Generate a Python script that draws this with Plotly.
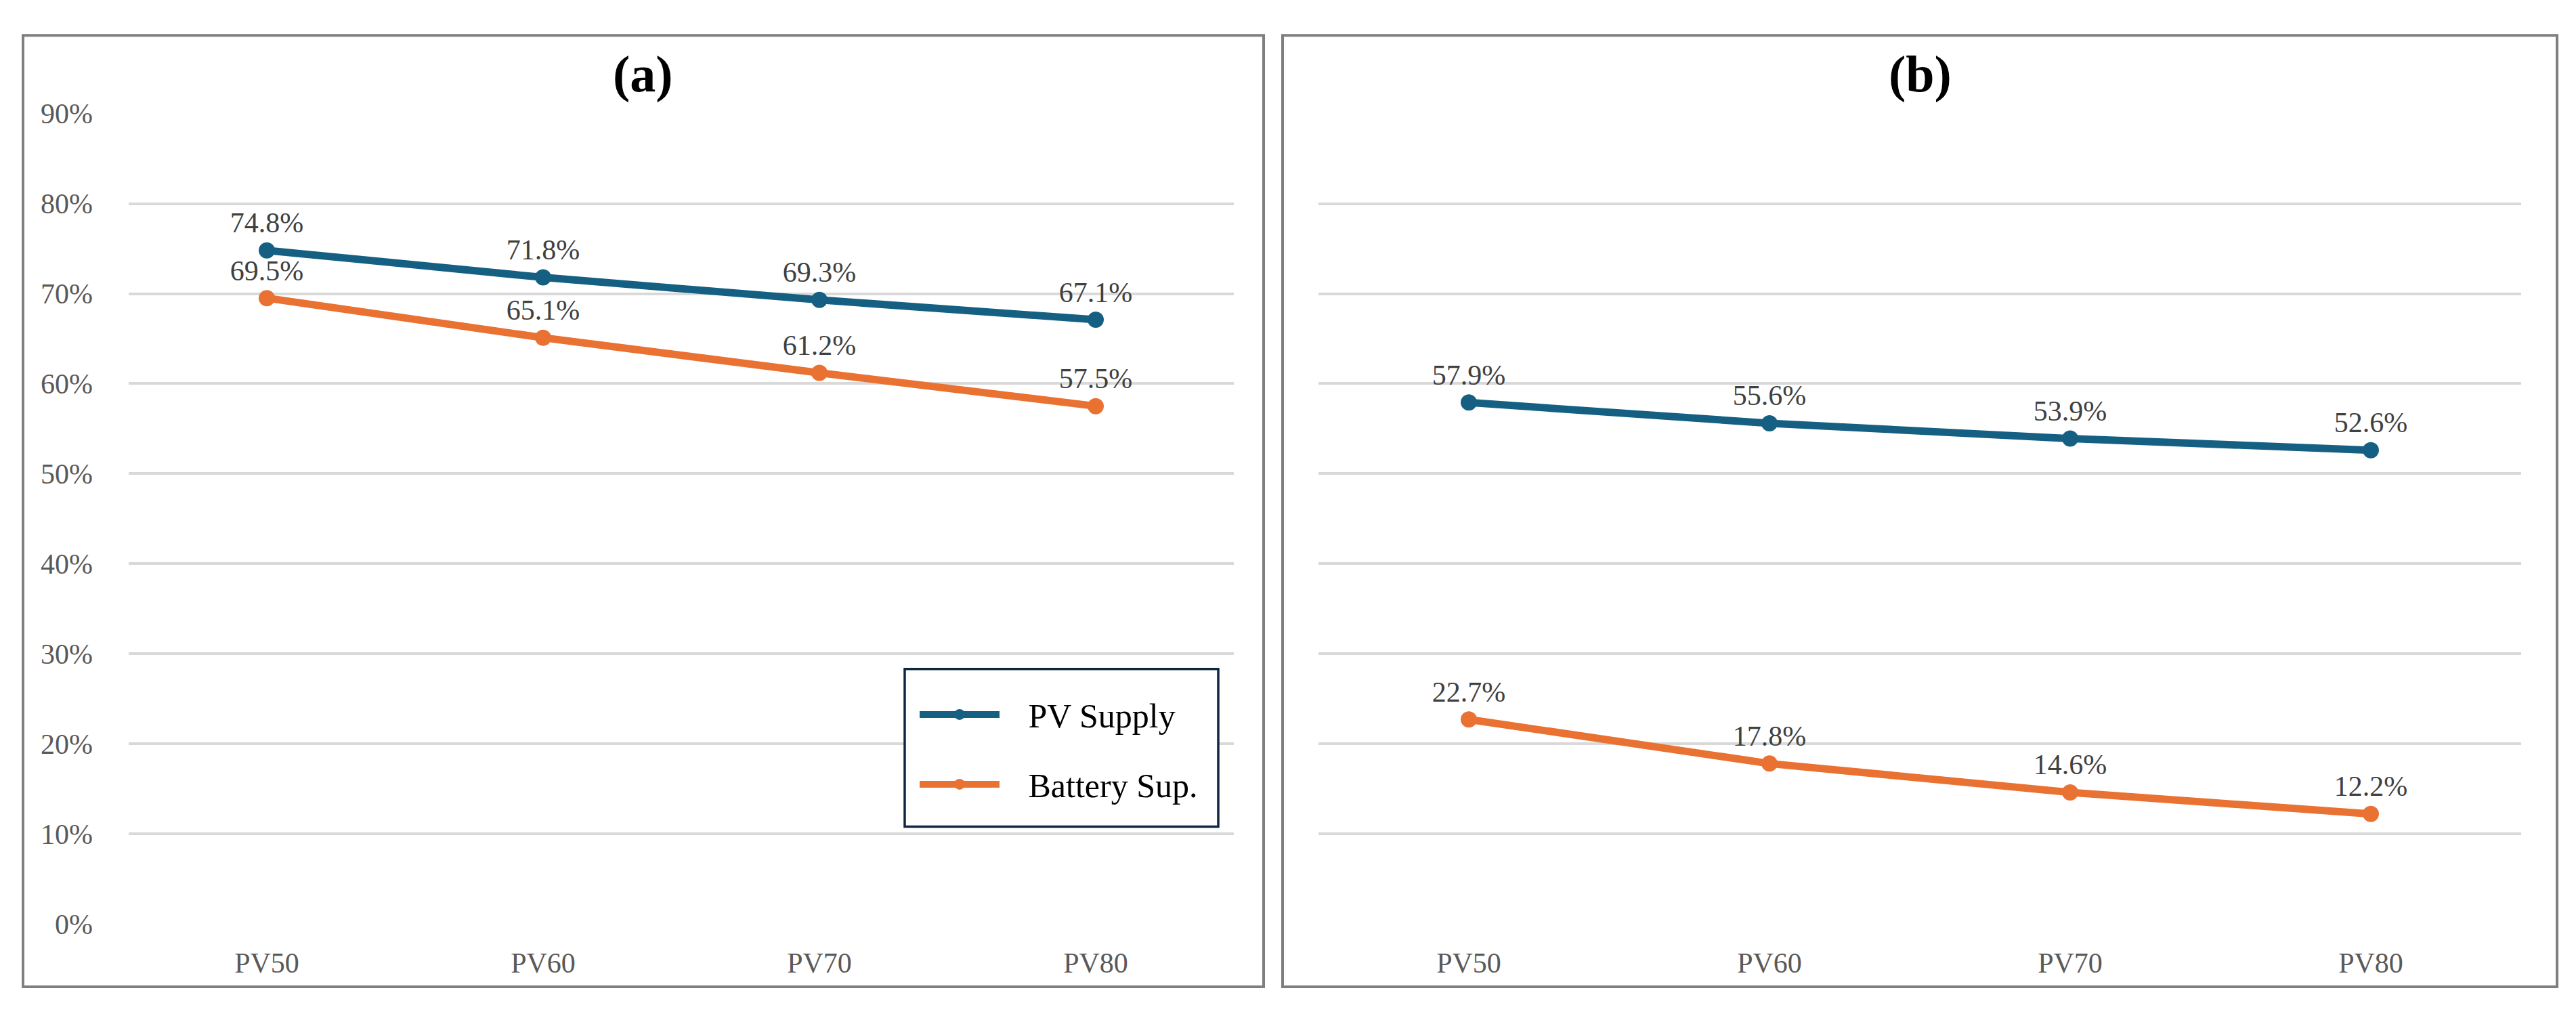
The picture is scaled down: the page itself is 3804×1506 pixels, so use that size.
import plotly.graph_objects as go

# ---- data ----
categories = ["PV50", "PV60", "PV70", "PV80"]
pv_supply_a = [0.748, 0.718, 0.693, 0.671]
battery_sup_a = [0.695, 0.651, 0.612, 0.575]
pv_supply_b = [0.579, 0.556, 0.539, 0.526]
battery_sup_b = [0.227, 0.178, 0.146, 0.122]
panel_titles = ["(a)", "(b)"]
series_names = ["PV Supply", "Battery Sup."]

# ---- style ----
W, H = 3804, 1506
BLUE = "#156082"
ORANGE = "#E97132"
FONT = "Liberation Serif"
GRID = "#d9d9d9"
GAP = "\u00a0\u00a0\u00a0"

def px_x(v):
    return v / W

def px_y(v):
    return 1 - v / H

fig = go.Figure()

def add_series(y, name, color, xa, ya, show):
    fig.add_trace(go.Scatter(
        x=categories, y=y, name=GAP + name, mode="lines+markers+text",
        line=dict(color=color, width=11),
        marker=dict(color=color, size=24),
        texttemplate="%{y:.1%}", textposition="top center",
        textfont=dict(family=FONT, size=42, color="#404040"),
        xaxis=xa, yaxis=ya, showlegend=show, legendgroup=name,
        cliponaxis=False,
    ))

add_series(pv_supply_a, series_names[0], BLUE, "x", "y", True)
add_series(battery_sup_a, series_names[1], ORANGE, "x", "y", True)
add_series(pv_supply_b, series_names[0], BLUE, "x2", "y2", False)
add_series(battery_sup_b, series_names[1], ORANGE, "x2", "y2", False)

y_dom = [px_y(1376), px_y(142)]
axis_common_x = dict(
    type="category", range=[-0.5, 3.5], showgrid=False, zeroline=False,
    showline=False, ticks="", tickfont=dict(family=FONT, size=42, color="#595959"),
    ticklabelstandoff=29,
)
axis_common_y = dict(
    range=[0, 0.9], dtick=0.1, tickformat=".0%", showgrid=True,
    gridcolor=GRID, gridwidth=3.5, zeroline=False, showline=False, ticks="",
    tickfont=dict(family=FONT, size=42, color="#595959"),
)

fig.update_layout(
    width=W, height=H,
    margin=dict(l=0, r=0, t=0, b=0),
    paper_bgcolor="white", plot_bgcolor="white",
    xaxis=dict(domain=[px_x(182), px_x(1814)], anchor="y", **axis_common_x),
    yaxis=dict(domain=y_dom, anchor="x", ticklabelstandoff=52, **axis_common_y),
    xaxis2=dict(domain=[px_x(1939), px_x(3715)], anchor="y2", **axis_common_x),
    yaxis2=dict(domain=y_dom, anchor="x2", showticklabels=False, **axis_common_y),
    legend=dict(
        x=px_x(1345), y=px_y(1017), xanchor="left", yanchor="top",
        borderwidth=0, bgcolor="rgba(0,0,0,0)",
        font=dict(family=FONT, size=50, color="#000000"),
        itemwidth=118, tracegroupgap=35, traceorder="grouped",
    ),
    shapes=[
        dict(type="rect", xref="paper", yref="paper",
             x0=px_x(26), x1=px_x(1858), y0=px_y(1472), y1=px_y(23),
             line=dict(color="#7f7f7f", width=4), layer="below"),
        dict(type="rect", xref="paper", yref="paper",
             x0=px_x(1886), x1=px_x(3768), y0=px_y(1472), y1=px_y(23),
             line=dict(color="#7f7f7f", width=4), layer="below"),
        # legend frame
        dict(type="rect", xref="paper", yref="paper",
             x0=px_x(1328), x1=px_x(1791), y0=px_y(1228), y1=px_y(988),
             line=dict(color="#0E2841", width=3.5), fillcolor="white", layer="above"),
    ],
    annotations=[
        dict(text="<b>%s</b>" % panel_titles[0], xref="paper", yref="paper",
             x=px_x(941), y=px_y(82), xanchor="center", yanchor="middle",
             showarrow=False, font=dict(family=FONT, size=76, color="#000000")),
        dict(text="<b>%s</b>" % panel_titles[1], xref="paper", yref="paper",
             x=px_x(2827), y=px_y(82), xanchor="center", yanchor="middle",
             showarrow=False, font=dict(family=FONT, size=76, color="#000000")),
    ],
)

fig.write_html("out.html")
